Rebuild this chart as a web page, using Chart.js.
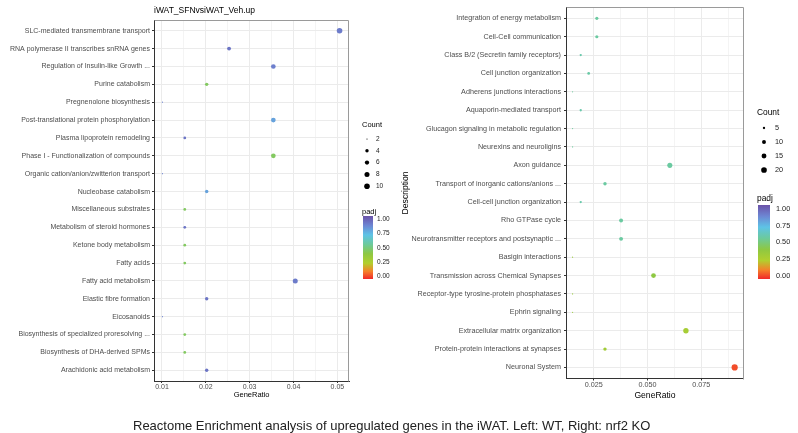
<!DOCTYPE html>
<html><head><meta charset="utf-8">
<script src="https://cdn.jsdelivr.net/npm/chart.js@4.4.0/dist/chart.umd.min.js"></script>
<style>
html,body{margin:0;padding:0;background:#fff;}
body{width:798px;height:433px;position:relative;overflow:hidden;font-family:'Liberation Sans',Arial,sans-serif;}
.box{position:absolute;}
.txt{position:absolute;white-space:nowrap;line-height:1;transform:translateY(-50%);}
#legendCanvas{position:absolute;left:0;top:0;pointer-events:none;}
</style></head><body>
<div class="box" style="left:0;top:0;width:352px;height:410px;"><canvas id="leftChart"></canvas></div>
<div class="box" style="left:398px;top:0;width:349px;height:410px;"><canvas id="rightChart"></canvas></div>
<canvas id="legendCanvas" width="798" height="433"></canvas>
<div class="txt" style="left:154px;top:10px;font-size:8.5px;color:#000;">iWAT_SFNvsiWAT_Veh.up</div>
<div class="txt" style="left:133px;top:425px;font-size:13px;color:#222;">Reactome Enrichment analysis of upregulated genes in the iWAT. Left: WT, Right: nrf2 KO</div>
<script>
// ---------------- data ----------------
const leftCategories = [
  "SLC-mediated transmembrane transport",
  "RNA polymerase II transcribes snRNA genes",
  "Regulation of Insulin-like Growth ...",
  "Purine catabolism",
  "Pregnenolone biosynthesis",
  "Post-translational protein phosphorylation",
  "Plasma lipoprotein remodeling",
  "Phase I - Functionalization of compounds",
  "Organic cation/anion/zwitterion transport",
  "Nucleobase catabolism",
  "Miscellaneous substrates",
  "Metabolism of steroid hormones",
  "Ketone body metabolism",
  "Fatty acids",
  "Fatty acid metabolism",
  "Elastic fibre formation",
  "Eicosanoids",
  "Biosynthesis of specialized proresolving ...",
  "Biosynthesis of DHA-derived SPMs",
  "Arachidonic acid metabolism"
];
const leftGeneRatio = [0.0505,0.0253,0.0354,0.0202,0.0101,0.0354,0.0152,0.0354,0.0101,0.0202,
                       0.0152,0.0152,0.0152,0.0152,0.0404,0.0202,0.0101,0.0152,0.0152,0.0202];
const leftCount = [10,5,7,4,2,7,3,7,2,4,3,3,3,3,8,4,2,3,3,4];
const leftPadj = [0.88,0.9,0.87,0.45,0.86,0.78,0.9,0.45,0.86,0.78,0.45,0.9,0.45,0.45,0.88,0.9,0.86,0.45,0.45,0.9];

const rightCategories = [
  "Integration of energy metabolism",
  "Cell-Cell communication",
  "Class B/2 (Secretin family receptors)",
  "Cell junction organization",
  "Adherens junctions interactions",
  "Aquaporin-mediated transport",
  "Glucagon signaling in metabolic regulation",
  "Neurexins and neuroligins",
  "Axon guidance",
  "Transport of inorganic cations/anions ...",
  "Cell-cell junction organization",
  "Rho GTPase cycle",
  "Neurotransmitter receptors and postsynaptic ...",
  "Basigin interactions",
  "Transmission across Chemical Synapses",
  "Receptor-type tyrosine-protein phosphatases",
  "Ephrin signaling",
  "Extracellular matrix organization",
  "Protein-protein interactions at synapses",
  "Neuronal System"
];
const rightGeneRatio = [0.0264,0.0264,0.0189,0.0226,0.0151,0.0189,0.0151,0.0151,0.0604,0.0302,
                        0.0189,0.0377,0.0377,0.0151,0.0528,0.0151,0.0151,0.0679,0.0302,0.0906];
const rightCount = [7,7,5,6,4,5,4,4,16,8,5,10,10,4,14,4,4,18,8,24];
const rightPadj = [0.56,0.56,0.58,0.57,0.55,0.58,0.55,0.55,0.56,0.56,0.58,0.56,0.56,0.36,0.4,0.36,0.36,0.3,0.32,0.05];

const leftXTicks = [0.01,0.015,0.02,0.025,0.03,0.035,0.04,0.045,0.05];
const leftXTickLabels = ["0.01","","0.02","","0.03","","0.04","","0.05"];
const rightXTicks = [0.0125,0.025,0.0375,0.05,0.0625,0.075,0.0875];
const rightXTickLabels = ["","0.025","","0.050","","0.075",""];
const leftXRange = [0.00818,0.0527];
const rightXRange = [0.01204,0.0949];

const leftSizeBreaks = [2,4,6,8,10];
const rightSizeBreaks = [5,10,15,20];
const padjBreaks = [1.00,0.75,0.50,0.25,0.00];
const padjBreakLabels = ["1.00","0.75","0.50","0.25","0.00"];

// ---------------- styles ----------------
const padjStops = [[0,'#f0282a'],[0.12,'#f5802a'],[0.25,'#b2cf2e'],[0.4,'#8ec842'],[0.55,'#6cca9c'],[0.7,'#5ec3e6'],[0.85,'#6d86d3'],[1,'#6b52a8']];
function hex2rgb(h){return [parseInt(h.slice(1,3),16),parseInt(h.slice(3,5),16),parseInt(h.slice(5,7),16)];}
function padjColor(v){
  for(let i=0;i<padjStops.length-1;i++){
    const [a,ca]=padjStops[i],[b,cb]=padjStops[i+1];
    if(v<=b){const t=(v-a)/(b-a);const A=hex2rgb(ca),B=hex2rgb(cb);
      return 'rgb('+A.map((x,k)=>Math.round(x+(B[k]-x)*t)).join(',')+')';}
  }
  return padjStops[padjStops.length-1][1];
}
const leftRadius = c => 0.6 + 2.2*Math.sqrt((c-2)/8);
const rightRadius = c => 0.6 + 2.5*Math.sqrt((c-4)/20);
const FONT = "'Liberation Sans', Arial, sans-serif";
Chart.defaults.font.family = FONT;

const frame = {
  id:'frame',
  afterDraw(chart){
    const {ctx, chartArea:a} = chart;
    ctx.save(); ctx.strokeStyle='#9a9a9a'; ctx.lineWidth=1;
    ctx.beginPath();
    ctx.moveTo(Math.round(a.left)+0.5, Math.round(a.top)+0.5);
    ctx.lineTo(Math.round(a.right)-0.5, Math.round(a.top)+0.5);
    ctx.lineTo(Math.round(a.right)-0.5, Math.round(a.bottom)+0.5);
    ctx.stroke(); ctx.restore();
  }
};

function makeChart(id, p){
  const majors = p.xTicks.filter((v,i)=>p.xLabels[i]!=='');
  const isMajor = v => majors.some(m=>Math.abs(m-v)<1e-9);
  return new Chart(document.getElementById(id), {
    type:'scatter',
    data:{datasets:[{
      data:p.cats.map((c,i)=>({x:p.ratio[i], y:i})),
      pointRadius:ctx=>p.radius(p.count[ctx.dataIndex]),
      pointHoverRadius:ctx=>p.radius(p.count[ctx.dataIndex]),
      backgroundColor:ctx=>padjColor(p.padj[ctx.dataIndex]),
      borderWidth:0
    }]},
    options:{
      responsive:true, maintainAspectRatio:false, animation:false,
      layout:{padding:{top:p.top,right:2,left:0,bottom:0}},
      plugins:{legend:{display:false},tooltip:{enabled:false}},
      scales:{
        x:{type:'linear', min:p.xRange[0], max:p.xRange[1],
          afterBuildTicks:s=>{s.ticks=p.xTicks.map(v=>({value:v}));},
          afterFit:s=>{s.height=p.xHeight;},
          ticks:{autoSkip:false,maxRotation:0,padding:0,color:'#4d4d4d',font:{size:p.tickFont},
            callback:(v)=>{const i=p.xTicks.findIndex(t=>Math.abs(t-v)<1e-9);return i<0?'':p.xLabels[i];}},
          grid:{color:ctx=>isMajor(ctx.tick.value)?'#ebebeb':'#f4f4f4',lineWidth:1,tickLength:2,
            tickColor:ctx=>isMajor(ctx.tick.value)?'#333':'rgba(0,0,0,0)'},
          border:{display:true,color:'#333',width:1},
          title:{display:true,text:'GeneRatio',color:'#000',font:{size:p.titleFont},padding:{top:0,bottom:p.xTitlePad}}
        },
        y:{type:'linear', reverse:true, min:-0.6, max:p.cats.length-0.4,
          afterBuildTicks:s=>{s.ticks=p.cats.map((c,i)=>({value:i}));},
          afterFit:s=>{s.width=p.yWidth;},
          ticks:{autoSkip:false,padding:p.yPad,color:'#4d4d4d',font:{size:p.tickFont},
            callback:(v)=>p.cats[v]},
          grid:{color:'#ebebeb',lineWidth:1,tickLength:2,tickColor:'#333'},
          border:{display:true,color:'#333',width:1},
          title:{display:p.yTitle!=null,text:p.yTitle||'',color:'#000',font:{size:p.titleFont},padding:{top:p.yTitlePad,bottom:0}}
        }
      }
    },
    plugins:[frame]
  });
}

makeChart('leftChart',{cats:leftCategories,ratio:leftGeneRatio,count:leftCount,padj:leftPadj,radius:leftRadius,
  xTicks:leftXTicks,xLabels:leftXTickLabels,xRange:leftXRange,top:20,xHeight:29,yWidth:154,yPad:2,
  tickFont:7,titleFont:7.5,xTitlePad:10.5,yTitle:null,yTitlePad:0});
makeChart('rightChart',{cats:rightCategories,ratio:rightGeneRatio,count:rightCount,padj:rightPadj,radius:rightRadius,
  xTicks:rightXTicks,xLabels:rightXTickLabels,xRange:rightXRange,top:4.5,xHeight:31.5,yWidth:168,yPad:3,
  tickFont:7.2,titleFont:8.6,xTitlePad:8.8,yTitle:'Description',yTitlePad:2.8});

// ---------------- legends (drawn on an overlay canvas) ----------------
const lc = document.getElementById('legendCanvas').getContext('2d');
lc.textBaseline = 'middle';
function txt(x,y,s,size,color){lc.font=size+'px '+FONT;lc.fillStyle=color||'#000';lc.textAlign='left';lc.fillText(s,x,y);}
function dot(cx,cy,r){lc.fillStyle='#000';lc.beginPath();lc.arc(cx,cy,r,0,Math.PI*2);lc.fill();}
function bar(x,y,w,h){const g=lc.createLinearGradient(0,y+h,0,y);padjStops.forEach(s=>g.addColorStop(s[0],s[1]));
  lc.fillStyle=g;lc.fillRect(x,y,w,h);}
function legend(o){
  txt(o.x, o.countY, 'Count', o.titleSize);
  o.sizes.forEach((c,i)=>{const y=o.dotY0+i*o.dotStep; dot(o.x+o.dotDx, y, o.radius(c)); txt(o.x+o.labDx, y, String(c), o.labSize, '#222');});
  txt(o.x, o.padjY, 'padj', o.titleSize);
  bar(o.x+1, o.barTop, o.barW, o.barH);
  padjBreaks.forEach((v,i)=>txt(o.x+o.labDx+1, o.lab0 - v*(o.lab0-o.lab1), padjBreakLabels[i], o.labSize, '#222'));
}
legend({x:362,countY:125,titleSize:7.5,sizes:leftSizeBreaks,dotY0:139,dotStep:11.8,dotDx:5,labDx:14,radius:leftRadius,labSize:6.5,
  padjY:212,barTop:216,barW:10,barH:63,lab0:276,lab1:219.5});
legend({x:757,countY:113,titleSize:8.4,sizes:rightSizeBreaks,dotY0:128,dotStep:14,dotDx:7,labDx:18,radius:rightRadius,labSize:7.3,
  padjY:199,barTop:205,barW:12,barH:74,lab0:275.5,lab1:209});
</script>
</body></html>
